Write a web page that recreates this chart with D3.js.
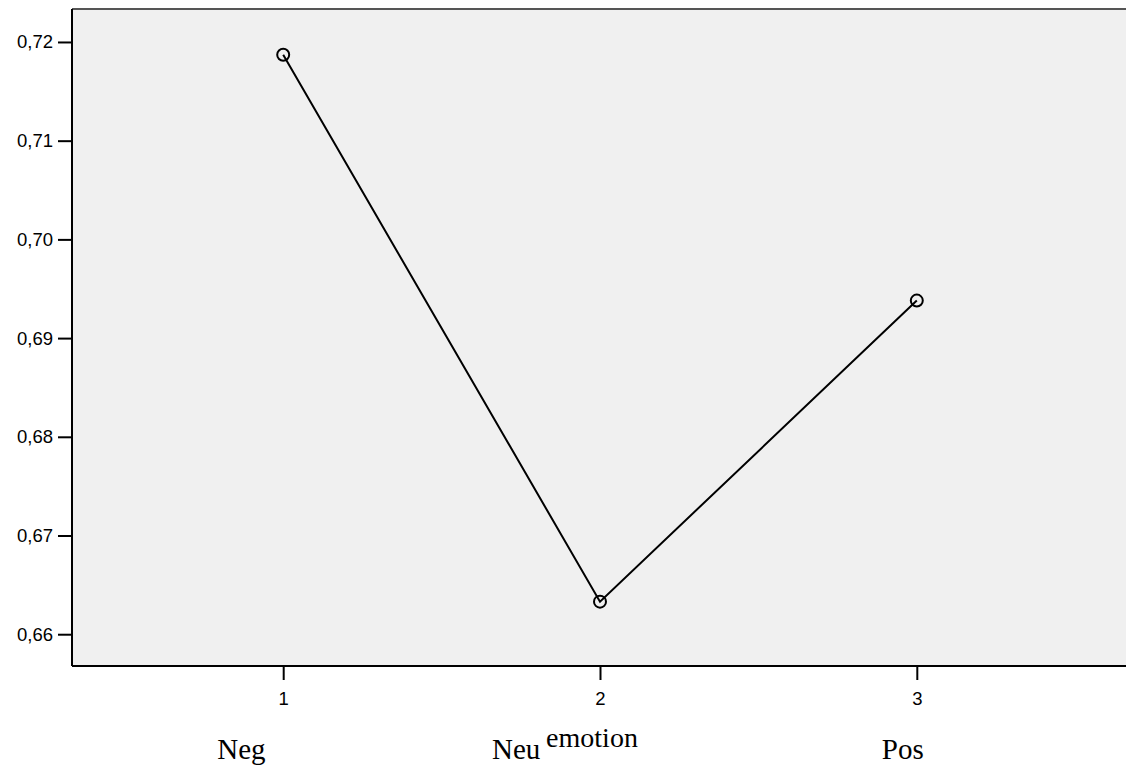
<!DOCTYPE html>
<html>
<head>
<meta charset="utf-8">
<script src="https://cdn.jsdelivr.net/npm/d3@7"></script>
<style>
  html, body { margin: 0; padding: 0; background: #fff; }
  svg { display: block; }
</style>
</head>
<body>
<svg id="chart" width="1126" height="767"></svg>
<script>
// Data
const categories = [1, 2, 3];
const categoryNames = ["Neg", "Neu", "Pos"];
const values = [0.7187, 0.6633, 0.6938];
const yTicks = [0.66, 0.67, 0.68, 0.69, 0.70, 0.71, 0.72];
const xTitle = "emotion";

const svg = d3.select("#chart");
const pLeft = 72, pRight = 1128, pTop = 9, pBottom = 666;

const x = d3.scaleLinear().domain([1/3, 11/3]).range([pLeft, pRight]);
const y = d3.scaleLinear().domain([0.65678, 0.72334]).range([pBottom, pTop]);

// plot background
svg.append("rect")
  .attr("x", pLeft).attr("y", pTop)
  .attr("width", pRight - pLeft).attr("height", pBottom - pTop)
  .attr("fill", "#f0f0f0");

// top border
svg.append("line")
  .attr("x1", pLeft).attr("x2", pRight)
  .attr("y1", pTop).attr("y2", pTop)
  .attr("stroke", "#555").attr("stroke-width", 2);

// Y axis
const yAxis = d3.axisLeft(y).tickValues(yTicks).tickSize(14).tickPadding(5)
  .tickFormat(d => d3.format(".2f")(d).replace(".", ","));
const gy = svg.append("g").attr("transform", `translate(${pLeft},0)`).call(yAxis);
gy.select(".domain").attr("stroke", "#000").attr("stroke-width", 2)
  .attr("d", `M0,${pTop}V${pBottom}`);
gy.selectAll(".tick line").attr("stroke", "#000").attr("stroke-width", 2);
gy.selectAll(".tick text").attr("font-family", "Liberation Sans, Arial, sans-serif")
  .attr("font-size", 18.5).attr("fill", "#000");

// X axis
const xAxis = d3.axisBottom(x).tickValues(categories).tickSize(14).tickPadding(12)
  .tickFormat(d3.format("d"));
const gx = svg.append("g").attr("transform", `translate(0,${pBottom})`).call(xAxis);
gx.select(".domain").attr("stroke", "#000").attr("stroke-width", 2)
  .attr("d", `M${pLeft},0H${pRight}`);
gx.selectAll(".tick line").attr("stroke", "#000").attr("stroke-width", 2);
gx.selectAll(".tick text").attr("font-family", "Liberation Sans, Arial, sans-serif")
  .attr("font-size", 18.5).attr("fill", "#000");

// line
const pts = categories.map((c, i) => [c, values[i]]);
svg.append("path")
  .datum(pts)
  .attr("fill", "none")
  .attr("stroke", "#000")
  .attr("stroke-width", 2)
  .attr("d", d3.line().x(d => x(d[0])).y(d => y(d[1])));

svg.selectAll("circle.pt")
  .data(pts)
  .join("circle")
  .attr("class", "pt")
  .attr("cx", d => x(d[0])).attr("cy", d => y(d[1]))
  .attr("r", 6)
  .attr("fill", "none")
  .attr("stroke", "#000")
  .attr("stroke-width", 2);

// axis title
svg.append("text")
  .attr("x", x(2) - 8).attr("y", 747)
  .attr("text-anchor", "middle")
  .attr("font-family", "Liberation Serif, Times New Roman, serif")
  .attr("font-size", 28)
  .attr("fill", "#000")
  .text(xTitle);

// category names (placed under ticks, shifted left as in the reference)
const nameOffsets = [-66, -108, -35];
svg.selectAll("text.cat")
  .data(categoryNames)
  .join("text")
  .attr("class", "cat")
  .attr("x", (d, i) => x(categories[i]) + nameOffsets[i])
  .attr("y", 759)
  .attr("font-family", "Liberation Serif, Times New Roman, serif")
  .attr("font-size", 29)
  .attr("fill", "#000")
  .text(d => d);
</script>
</body>
</html>
